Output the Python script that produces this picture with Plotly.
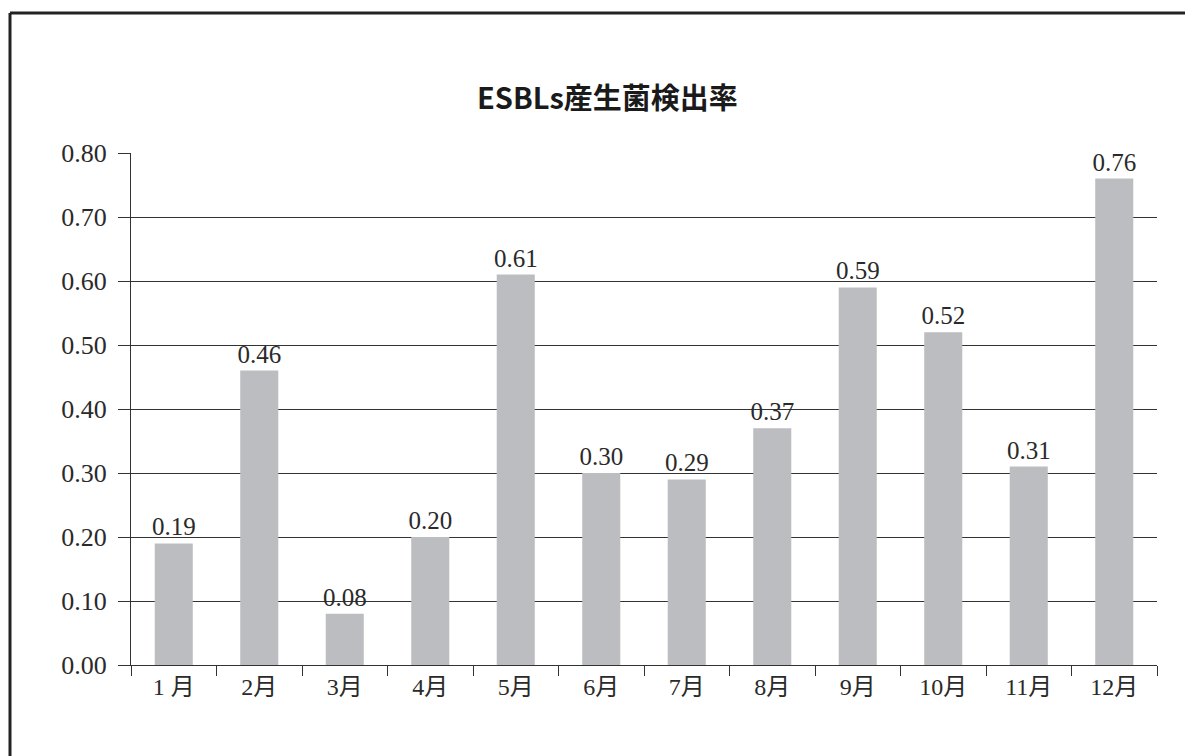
import plotly.graph_objects as go

months = ["1 月", "2月", "3月", "4月", "5月", "6月", "7月", "8月", "9月", "10月", "11月", "12月"]
rates = [0.19, 0.46, 0.08, 0.20, 0.61, 0.30, 0.29, 0.37, 0.59, 0.52, 0.31, 0.76]
y_ticks = [0.0, 0.1, 0.2, 0.3, 0.4, 0.5, 0.6, 0.7, 0.8]
title_text = "ESBLs産生菌検出率"

# page is rendered with an 8px body margin; coordinates below are in figure pixels
W, H = 1193, 756
L, R, T, B = 123, 44, 145, 99
pw, ph = W - L - R, H - T - B

def px_x(p):
    return (p - L) / pw

def px_y(p):
    return (H - B - p) / ph

serif = "Liberation Serif, Times New Roman, Noto Sans CJK JP, serif"

fig = go.Figure()
fig.add_trace(go.Bar(
    x=months, y=rates,
    marker=dict(color="#bcbdc0", line=dict(width=0)),
    text=[f"{v:.2f}" for v in rates],
    textposition="outside",
    constraintext="none",
    textfont=dict(family=serif, size=25, color="#2a2a2a"),
    cliponaxis=False,
))

fig.update_layout(
    width=W, height=H,
    margin=dict(l=L, r=R, t=T, b=B),
    paper_bgcolor="white", plot_bgcolor="white",
    bargap=0.555,
    showlegend=False,
    font=dict(family=serif, color="#2a2a2a"),
)
fig.update_xaxes(
    type="category",
    showline=True, linecolor="#333", linewidth=1,
    ticks="outside", tickson="boundaries", ticklen=10, tickcolor="#333", tickwidth=1,
    tickfont=dict(family=serif, size=24, color="#2a2a2a"),
    showgrid=False,
)
fig.update_yaxes(
    range=[0, 0.8],
    tickvals=y_ticks,
    ticktext=[f"{v:.2f}" for v in y_ticks],
    showline=True, linecolor="#333", linewidth=1,
    ticks="outside", ticklen=12, tickcolor="#333", tickwidth=1,
    ticklabelstandoff=6,
    tickfont=dict(family=serif, size=26, color="#2a2a2a"),
    showgrid=True, gridcolor="#333", gridwidth=1,
    zeroline=False,
)

fig.add_annotation(
    text=title_text, x=px_x(599), y=px_y(88), xref="paper", yref="paper",
    showarrow=False, xanchor="center", yanchor="middle",
    font=dict(family="Noto Sans CJK JP, Noto Sans, sans-serif", size=29, color="#1a1a1a", weight="bold"),
)

# Outer frame (only top & left edges visible in reference)
fig.add_shape(type="line", xref="paper", yref="paper",
              x0=px_x(2), x1=px_x(W + 20), y0=px_y(5), y1=px_y(5),
              line=dict(color="#222", width=3))
fig.add_shape(type="line", xref="paper", yref="paper",
              x0=px_x(2), x1=px_x(2), y0=px_y(5), y1=px_y(H + 20),
              line=dict(color="#222", width=3))

fig.write_html("out.html")
